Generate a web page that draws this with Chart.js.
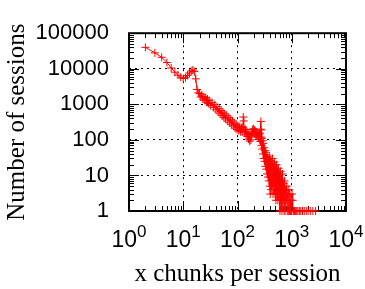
<!DOCTYPE html>
<html>
<head>
<meta charset="utf-8">
<script src="https://cdn.jsdelivr.net/npm/chart.js@4"></script>
<style>
  html, body { margin: 0; padding: 0; background: #fff; }
  canvas { display: block; }
</style>
</head>
<body>
<canvas id="chart" width="365" height="289"></canvas>
<script>
// chunks per session (x) and number of sessions (y)
const chunks = [
  2, 3, 4, 5, 6, 7, 8, 9, 10, 11, 12, 13, 14, 15, 16, 17, 18, 19,
  20, 21, 22, 23, 24, 25, 26, 27, 28, 29, 30, 32, 34, 36, 38, 40,
  42, 44, 46, 48, 50, 52, 54, 56, 58, 60, 63, 66, 69, 72, 75, 78,
  81, 84, 87, 90, 94, 98, 102, 106, 110, 114, 118, 122, 126, 128, 130, 132,
  136, 140, 144, 148, 152, 156, 160, 164, 168, 172, 176, 180, 184, 188, 192, 196,
  200, 205, 210, 215, 220, 226, 232, 238, 244, 250, 255, 260, 265, 268, 270, 272,
  275, 278, 282, 286, 290, 295, 300, 305, 310, 315, 320, 326, 332, 338, 344, 350,
  357, 364, 371, 378, 385, 393, 401, 409, 417, 425, 434, 443, 452, 461, 470, 480,
  490, 500, 511, 522, 533, 544, 556, 568, 580, 593, 606, 619, 633, 647, 661, 676,
  691, 706, 722, 738, 755, 772, 790, 808, 826, 845, 865, 885, 905, 926, 948, 970,
  993, 1016, 1040, 1065, 1090, 1120, 1150, 1190, 1240, 1300, 1380, 1470, 1580, 1700, 1850, 2000,
  2200, 2450, 2750
];
const sessions = [
  40000, 28000, 21000, 15000, 10500, 8000, 6600, 5800, 5300, 5600, 6500, 7600, 8600, 9200, 8400, 5200, 2600, 2100,
  2000, 1600, 1850, 1400, 1650, 1300, 1550, 1150, 1400, 1050, 1280, 930, 1120, 820, 980, 700,
  860, 610, 750, 540, 670, 480, 600, 430, 540, 390, 490, 340, 430, 300, 380, 265,
  340, 245, 300, 215, 275, 195, 250, 180, 235, 170, 220, 165, 230, 440, 340, 200,
  160, 195, 140, 175, 125, 150, 105, 130, 92, 120, 100, 145, 165, 195, 160, 205,
  160, 190, 145, 175, 135, 165, 125, 155, 115, 145, 105, 155, 90, 200, 330, 190,
  120, 70, 110, 55, 95, 40, 80, 30, 60, 25, 50, 18, 45, 15, 38, 11,
  32, 9, 28, 7, 35, 5, 3, 26, 4, 22, 5, 30, 3, 18, 6, 24,
  3, 14, 2, 20, 4, 12, 2, 16, 3, 10, 1, 13, 2, 8, 1, 11,
  2, 6, 1, 7, 1, 4, 2, 5, 1, 3, 1, 4, 1, 3, 1, 2,
  1, 3, 2, 1, 1, 1, 1, 1, 1, 1, 1, 1, 1, 1, 1, 1,
  1, 1, 1
];
const xTicks = [1, 10, 100, 1000, 10000];
const xExponents = ["0", "1", "2", "3", "4"];
const yTicks = [1, 10, 100, 1000, 10000, 100000];
const yLabels = ["1", "10", "100", "1000", "10000", "100000"];

const points = chunks.map(function(c, i) { return { x: c, y: sessions[i] }; });

function gridColor(ticks) {
  return function(c) {
    const v = c.tick && c.tick.value;
    return (v === ticks[0] || v === ticks[ticks.length - 1]) ? "rgba(0,0,0,0)" : "#000";
  };
}

// inside tick marks on all four sides plus the frame, drawn under the data
const framePlugin = {
  id: "frame",
  beforeDatasetsDraw(chart) {
    const ctx = chart.ctx;
    const a = chart.chartArea;
    const xs = chart.scales.x;
    const ys = chart.scales.y;
    ctx.save();
    ctx.strokeStyle = "#000";
    ctx.lineWidth = 1;
    ctx.beginPath();
    for (let d = 1; d < xTicks[xTicks.length - 1]; d *= 10) {
      for (let m = 1; m < 10; m++) {
        const px = Math.round(xs.getPixelForValue(d * m)) + 0.5;
        const len = m === 1 ? 10 : 5;
        ctx.moveTo(px, a.bottom); ctx.lineTo(px, a.bottom - len);
        ctx.moveTo(px, a.top); ctx.lineTo(px, a.top + len);
      }
    }
    for (let d = 1; d < yTicks[yTicks.length - 1]; d *= 10) {
      for (let m = 1; m < 10; m++) {
        const py = Math.round(ys.getPixelForValue(d * m)) + 0.5;
        const len = m === 1 ? 10 : 5;
        ctx.moveTo(a.left, py); ctx.lineTo(a.left + len, py);
        ctx.moveTo(a.right, py); ctx.lineTo(a.right - len, py);
      }
    }
    ctx.stroke();
    ctx.lineWidth = 2;
    ctx.strokeRect(a.left, a.top, a.right - a.left, a.bottom - a.top);
    ctx.restore();
  },
  afterDraw(chart) {
    // x tick labels as 10 with a raised exponent
    const ctx = chart.ctx;
    const xs = chart.scales.x;
    const baseY = 247;
    ctx.save();
    ctx.fillStyle = "#000";
    ctx.textBaseline = "alphabetic";
    ctx.textAlign = "left";
    xTicks.forEach(function(v, i) {
      const px = xs.getPixelForValue(v);
      ctx.font = "23px 'Liberation Sans'";
      const w1 = ctx.measureText("10").width;
      ctx.font = "17px 'Liberation Sans'";
      const w2 = ctx.measureText(xExponents[i]).width;
      const x0 = px - (w1 + w2) / 2;
      ctx.font = "23px 'Liberation Sans'";
      ctx.fillText("10", x0, baseY);
      ctx.font = "17px 'Liberation Sans'";
      ctx.fillText(xExponents[i], x0 + w1, baseY - 10);
    });
    ctx.restore();
  }
};

const ctx = document.getElementById("chart").getContext("2d");
new Chart(ctx, {
  type: "scatter",
  data: {
    datasets: [{
      data: points,
      showLine: true,
      borderColor: "#ff0000",
      borderWidth: 1,
      pointStyle: "cross",
      pointRadius: 4,
      pointBorderWidth: 1,
      pointBorderColor: "#ff0000",
      pointBackgroundColor: "#ff0000",
      clip: false
    }]
  },
  options: {
    responsive: false,
    devicePixelRatio: 1,
    animation: false,
    layout: { padding: { top: 16, right: 19, left: 0, bottom: 0 } },
    plugins: { legend: { display: false }, tooltip: { enabled: false } },
    scales: {
      x: {
        type: "logarithmic",
        min: 1,
        max: 10000,
        afterBuildTicks: function(s) { s.ticks = xTicks.map(function(v) { return { value: v }; }); },
        afterFit: function(s) { s.height = 78; },
        ticks: { display: false },
        grid: { color: gridColor(xTicks), lineWidth: 1, drawTicks: false },
        border: { display: false, dash: [2, 4] },
        title: {
          display: true,
          text: "x chunks per session",
          color: "#000",
          font: { family: "'Liberation Serif'", size: 25 },
          padding: { top: 0, bottom: 0 }
        }
      },
      y: {
        type: "logarithmic",
        min: 1,
        max: 100000,
        afterBuildTicks: function(s) { s.ticks = yTicks.map(function(v) { return { value: v }; }); },
        afterFit: function(s) { s.width = 129; },
        ticks: {
          color: "#000",
          padding: 20,
          font: { family: "'Liberation Sans'", size: 22 },
          callback: function(v, i) { return yLabels[i]; }
        },
        grid: { color: gridColor(yTicks), lineWidth: 1, drawTicks: false },
        border: { display: false, dash: [2, 4] },
        title: {
          display: true,
          text: "Number of sessions",
          color: "#000",
          font: { family: "'Liberation Serif'", size: 25 },
          padding: { top: 2, bottom: 0 }
        }
      }
    }
  },
  plugins: [framePlugin]
});
</script>
</body>
</html>
